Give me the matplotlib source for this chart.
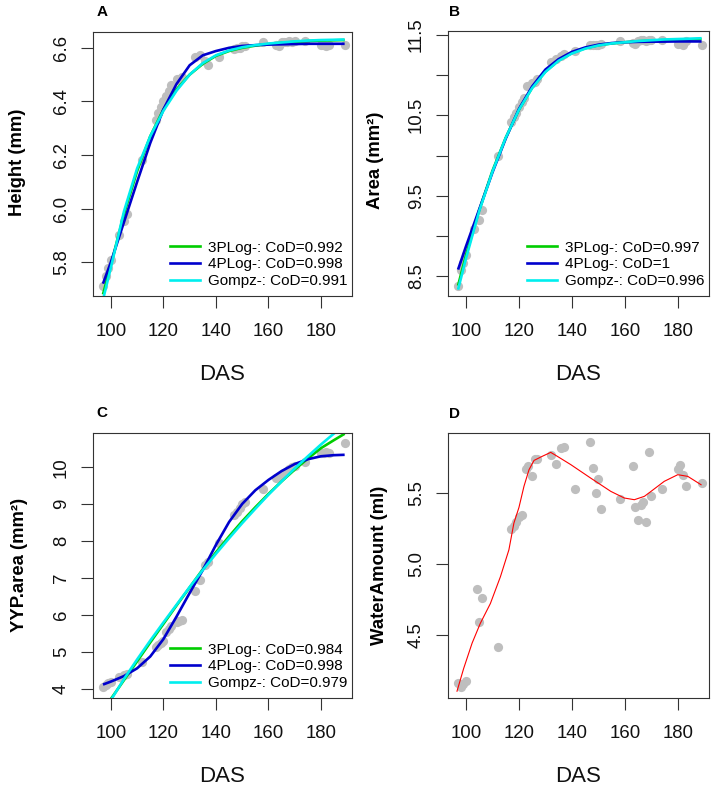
import matplotlib
matplotlib.use('Agg')
import matplotlib.pyplot as plt
from matplotlib.lines import Line2D

plt.rcParams['font.family'] = ['Liberation Sans', 'DejaVu Sans']

# ---------------- data ----------------
das = [97, 98, 99, 100, 103, 105, 106, 112, 117, 118, 119, 120, 121, 122, 123,
       125, 126, 127, 132, 134, 136, 137, 141, 147, 148, 149, 150, 151, 158,
       163, 164, 165, 166, 167, 168, 169, 170, 174, 180, 181, 182, 183, 189]

height_mm = [5.71, 5.75, 5.78, 5.81, 5.90, 5.955, 5.98, 6.18, 6.33, 6.355, 6.38,
             6.40, 6.42, 6.44, 6.46, 6.485, 6.48, 6.49, 6.565, 6.575, 6.55,
             6.535, 6.565, 6.595, 6.60, 6.60, 6.605, 6.605, 6.62, 6.61, 6.605,
             6.62, 6.62, 6.62, 6.625, 6.62, 6.625, 6.625, 6.61, 6.61, 6.605,
             6.61, 6.61]

area_mm2 = [8.38, 8.58, 8.66, 8.76, 9.08, 9.20, 9.32, 9.99, 10.42, 10.48, 10.53,
            10.60, 10.66, 10.72, 10.87, 10.90, 10.92, 10.95, 11.16, 11.20, 11.24,
            11.26, 11.30, 11.37, 11.37, 11.38, 11.38, 11.39, 11.42, 11.40, 11.39,
            11.43, 11.44, 11.44, 11.43, 11.44, 11.44, 11.44, 11.39, 11.40, 11.38,
            11.42, 11.38]

yyp_area = [4.06, 4.12, 4.15, 4.18, 4.33, 4.38, 4.40, 4.72, 5.15, 5.20, 5.25,
            5.30, 5.55, 5.62, 5.70, 5.80, 5.85, 5.87, 6.65, 6.95, 7.35, 7.45,
            7.94, 8.70, 8.80, 8.90, 9.00, 9.05, 9.42, 9.70, 9.75, 9.80, 9.85,
            9.90, 9.95, 10.00, 10.05, 10.15, 10.38, 10.40, 10.42, 10.40, 10.65]

water_das = [97, 98, 99, 100, 104, 106, 105, 112, 117, 118, 119, 120, 121, 122.5,
             123.5, 125, 126, 127, 132, 134, 136, 137, 141, 147, 148, 149, 150,
             151, 158, 163, 164, 165, 166, 167, 168, 169, 170, 174, 180, 181,
             182, 183, 189]
water_ml = [4.16, 4.13, 4.15, 4.17, 4.82, 4.76, 4.59, 4.41, 5.25, 5.27, 5.30,
            5.33, 5.35, 5.67, 5.69, 5.62, 5.74, 5.74, 5.77, 5.71, 5.82, 5.83,
            5.53, 5.86, 5.68, 5.50, 5.60, 5.39, 5.46, 5.69, 5.40, 5.31, 5.42,
            5.44, 5.30, 5.79, 5.48, 5.53, 5.67, 5.70, 5.63, 5.55, 5.57]

# fitted curves
fit_das = [97, 100, 105, 110, 115, 120, 125, 130, 135, 140, 145, 150, 155, 160,
           165, 170, 175, 180, 185, 189]

height_3plog = [5.68, 5.79, 5.98, 6.14, 6.27, 6.37, 6.445, 6.50, 6.54, 6.57, 6.588,
                6.60, 6.608, 6.614, 6.619, 6.622, 6.625, 6.627, 6.628, 6.629]
height_4plog = [5.72, 5.80, 5.95, 6.10, 6.245, 6.37, 6.465, 6.535, 6.572, 6.588,
                6.600, 6.607, 6.610, 6.612, 6.613, 6.614, 6.615, 6.615, 6.615, 6.615]
height_gompz = [5.66, 5.78, 5.99, 6.15, 6.27, 6.365, 6.44, 6.50, 6.543, 6.572, 6.59,
                6.602, 6.61, 6.616, 6.62, 6.624, 6.627, 6.629, 6.63, 6.631]

area_3plog = [8.38, 8.76, 9.32, 9.81, 10.22, 10.57, 10.845, 11.045, 11.185, 11.275,
              11.335, 11.372, 11.395, 11.41, 11.422, 11.43, 11.437, 11.442, 11.446, 11.45]
area_4plog = [8.58, 8.87, 9.33, 9.79, 10.21, 10.58, 10.86, 11.07, 11.20, 11.29,
              11.345, 11.38, 11.40, 11.41, 11.415, 11.417, 11.418, 11.42, 11.42, 11.42]
area_gompz = [8.33, 8.72, 9.31, 9.80, 10.22, 10.57, 10.84, 11.04, 11.18, 11.27,
              11.33, 11.37, 11.395, 11.41, 11.425, 11.435, 11.445, 11.45, 11.455, 11.46]

yyp_3plog = [3.42, 3.73, 4.24, 4.75, 5.26, 5.76, 6.26, 6.75, 7.24, 7.70, 8.13, 8.54,
             8.92, 9.28, 9.62, 9.94, 10.24, 10.52, 10.74, 10.91]
yyp_4plog = [4.12, 4.20, 4.35, 4.56, 4.88, 5.35, 5.96, 6.60, 7.22, 7.90, 8.52, 9.01,
             9.38, 9.66, 9.90, 10.09, 10.22, 10.30, 10.33, 10.34]
yyp_gompz = [3.35, 3.70, 4.27, 4.80, 5.31, 5.80, 6.28, 6.76, 7.22, 7.66, 8.08, 8.49,
             8.88, 9.26, 9.62, 9.97, 10.30, 10.62, 10.92, 11.15]

loess_das = [96.6, 99.1, 102.3, 105.4, 109.2, 113, 116.2, 118.1, 120, 121.9, 123.8,
             125.7, 128.8, 132, 134.5, 139.6, 147.1, 154.7, 159.8, 163.6, 167.4,
             169.9, 174.9, 180, 183.8, 188.8]
loess_water = [4.10, 4.26, 4.44, 4.58, 4.72, 4.91, 5.10, 5.29, 5.40, 5.55, 5.667,
               5.733, 5.762, 5.79, 5.762, 5.703, 5.608, 5.514, 5.467, 5.455, 5.479,
               5.514, 5.585, 5.632, 5.62, 5.561]

height_legend = ['3PLog-: CoD=0.992', '4PLog-: CoD=0.998', 'Gompz-: CoD=0.991']
area_legend = ['3PLog-: CoD=0.997', '4PLog-: CoD=1', 'Gompz-: CoD=0.996']
yyp_legend = ['3PLog-: CoD=0.984', '4PLog-: CoD=0.998', 'Gompz-: CoD=0.979']

x_ticks = [100, 120, 140, 160, 180]

# ---------------- style ----------------
W, H = 714, 789
GRAY = '#BEBEBE'
GREEN = '#00CD00'
BLUE = '#0000CD'
CYAN = '#00EEEE'
AX = '#333333'
TICK_FS = 13.4
LAB_FS = 13.3
DAS_FS = 16
LEG_FS = 11
PT = 44

fig = plt.figure(figsize=(W / 100, H / 100), dpi=100)


def make_ax(l, r, t, b):
    return fig.add_axes([l / W, 1 - b / H, (r - l) / W, (b - t) / H])


def style(ax, ylim, yticks, ylabels):
    ax.set_xlim(93.2, 191.8)
    ax.set_ylim(*ylim)
    ax.set_xticks(x_ticks)
    ax.set_xticklabels([str(v) for v in x_ticks])
    ax.set_yticks(yticks)
    ax.set_yticklabels(ylabels, rotation=90, va='center')
    for s in ax.spines.values():
        s.set_color(AX)
        s.set_linewidth(0.8)
    ax.tick_params(axis='x', direction='out', length=8.3, width=0.8, color=AX,
                   labelsize=TICK_FS, pad=11.5, labelcolor='#111111')
    ax.tick_params(axis='y', direction='out', length=8.3, width=0.8, color=AX,
                   labelsize=TICK_FS, pad=8.2, labelcolor='#111111')


def fits(ax, x, c3, c4, cg, labels):
    ax.plot(x, c3, color=GREEN, lw=1.9, solid_capstyle='butt')
    ax.plot(x, c4, color=BLUE, lw=1.9, solid_capstyle='butt')
    ax.plot(x, cg, color=CYAN, lw=1.9, solid_capstyle='butt')
    handles = [Line2D([], [], color=c, lw=1.9) for c in (GREEN, BLUE, CYAN)]
    ax.legend(handles, labels, loc='lower right', bbox_to_anchor=(1.0, 0.012),
              frameon=False, fontsize=LEG_FS, handlelength=1.95,
              handletextpad=0.55, labelspacing=0.18, borderpad=0.3,
              borderaxespad=0.0)


# Panel A
axA = make_ax(93, 352, 32, 296)
axA.scatter(das, height_mm, s=PT, color=GRAY, zorder=1, linewidths=0)
fits(axA, fit_das, height_3plog, height_4plog, height_gompz, height_legend)
style(axA, (5.674, 6.659), [5.8, 6.0, 6.2, 6.4, 6.6],
      ['5.8', '6.0', '6.2', '6.4', '6.6'])

# Panel B
axB = make_ax(448, 709, 31, 296)
axB.scatter(das, area_mm2, s=PT, color=GRAY, zorder=1, linewidths=0)
fits(axB, fit_das, area_3plog, area_4plog, area_gompz, area_legend)
style(axB, (8.251, 11.55), [8.5, 9.0, 9.5, 10.0, 10.5, 11.0, 11.5],
      ['8.5', '', '9.5', '', '10.5', '', '11.5'])

# Panel C
axC = make_ax(93, 352, 433, 698)
axC.scatter(das, yyp_area, s=PT, color=GRAY, zorder=1, linewidths=0)
fits(axC, fit_das, yyp_3plog, yyp_4plog, yyp_gompz, yyp_legend)
style(axC, (3.756, 10.93), [4, 5, 6, 7, 8, 9, 10],
      ['4', '5', '6', '7', '8', '9', '10'])

# Panel D
axD = make_ax(448, 709, 433, 698)
axD.scatter(water_das, water_ml, s=PT, color=GRAY, zorder=1, linewidths=0)
axD.plot(loess_das, loess_water, color='#FF0000', lw=0.8)
style(axD, (4.052, 5.927), [4.5, 5.0, 5.5], ['4.5', '5.0', '5.5'])

# axis titles
fig.text(18 / W, 1 - 162 / H, 'Height (mm)', rotation=90, ha='center',
         va='center', fontsize=LAB_FS, fontweight='bold')
fig.text(376 / W, 1 - 160 / H, 'Area (mm²)', rotation=90, ha='center',
         va='center', fontsize=LAB_FS, fontweight='bold')
fig.text(20 / W, 1 - 565 / H, 'YYP.area (mm²)', rotation=90, ha='center',
         va='center', fontsize=LAB_FS, fontweight='bold')
fig.text(379 / W, 1 - 565 / H, 'WaterAmount (ml)', rotation=90, ha='center',
         va='center', fontsize=LAB_FS, fontweight='bold')

for cx, cy in [(222.5, 375), (578.5, 375), (222.5, 777), (578.5, 777)]:
    fig.text(cx / W, 1 - cy / H, 'DAS', ha='center', va='center',
             fontsize=DAS_FS, color='#111111')

for letter, cx, cy in [('A', 102, 12.5), ('B', 454, 12.5), ('C', 102, 413),
                       ('D', 455, 414)]:
    fig.text(cx / W, 1 - cy / H, letter, ha='center', va='center',
             fontsize=11, fontweight='bold')

fig.savefig('out.png', dpi=100)
